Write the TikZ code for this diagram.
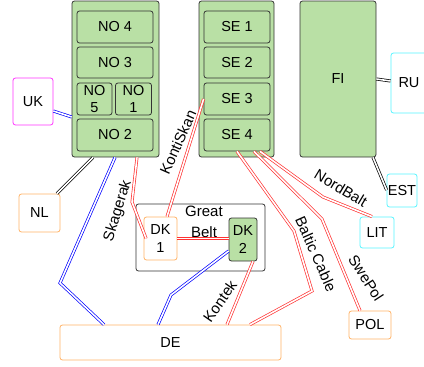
\documentclass[tikz,border=0pt]{standalone}
\usepackage{fontspec}
\setmainfont{Liberation Sans}
\usetikzlibrary{calc}
\definecolor{gfill}{HTML}{B9E0A5}
\definecolor{gline}{HTML}{333333}
\definecolor{orng}{HTML}{FFB366}
\definecolor{cyn}{HTML}{55F5FF}
\definecolor{mgn}{HTML}{FF33FF}
\definecolor{redl}{HTML}{FF3333}
\definecolor{bluel}{HTML}{0000FF}
\tikzset{
  box/.style={rectangle, rounded corners=2.5pt, line width=0.8pt, inner sep=0pt, align=center, font=\fontsize{14.5}{17.5}\selectfont},
  gbox/.style={box, draw=gline, fill=gfill},
  obox/.style={box, draw=orng, fill=white},
  cbox/.style={box, draw=cyn, fill=white},
  mbox/.style={box, draw=mgn, fill=white},
  wbox/.style={box, draw=gline, fill=white},
  link/.style={double=white, double distance=1.6pt, line width=0.7pt},
  redlink/.style={link, draw=redl},
  bluelink/.style={link, draw=bluel},
  blacklink/.style={link, draw=black},
  lbl/.style={inner sep=0pt, font=\fontsize{15}{18}\selectfont},
}
\begin{document}
\begin{tikzpicture}[x=1pt,y=-1pt]
\useasboundingbox (0,0) rectangle (424,367);
% containers
\node[gbox, minimum width=87, minimum height=156] (NO) at (115.5,79) {};
\node[gbox, minimum width=76, minimum height=32] (NO4) at (115,27) {NO 4};
\node[gbox, minimum width=76, minimum height=31] (NO3) at (115,62.5) {NO 3};
\node[gbox, minimum width=35, minimum height=32] (NO5) at (94.5,99) {NO\\5};
\node[gbox, minimum width=36, minimum height=32] (NO1) at (133.5,99) {NO\\1};
\node[gbox, minimum width=76, minimum height=32] (NO2) at (115,135) {NO 2};
\node[gbox, minimum width=75, minimum height=156] (SE) at (236.5,79) {};
\node[gbox, minimum width=66, minimum height=32] (SE1) at (237,27) {SE 1};
\node[gbox, minimum width=66, minimum height=31] (SE2) at (237,62.5) {SE 2};
\node[gbox, minimum width=66, minimum height=32] (SE3) at (237,99) {SE 3};
\node[gbox, minimum width=66, minimum height=32] (SE4) at (237,135) {SE 4};
\node[gbox, minimum width=76, minimum height=156] (FI) at (338,79) {FI};
\node[cbox, minimum width=36, minimum height=60] (RU) at (409,83) {RU};
\node[cbox, minimum width=30, minimum height=33] (EST) at (402,190.5) {EST};
\node[cbox, minimum width=34, minimum height=31] (LIT) at (377,232.5) {LIT};
\node[obox, minimum width=42, minimum height=28] (POL) at (370,325) {POL};
\node[obox, minimum width=221, minimum height=35] (DE) at (170.5,342.5) {DE};
\node[obox, minimum width=41, minimum height=38] (NL) at (39.5,213) {NL};
\node[mbox, minimum width=40, minimum height=47] (UK) at (33,101.5) {UK};
\node[wbox, minimum width=129, minimum height=67] (GB) at (200.5,237.5) {};
\node[lbl, align=center, font=\fontsize{15}{21}\selectfont] (GBl) at (204,222) {Great\\Belt};
\node[obox, minimum width=33, minimum height=43] (DK1) at (160.5,238.5) {DK\\1};
\node[gbox, minimum width=28, minimum height=43] (DK2) at (243,239.5) {DK\\2};
% connectors
\draw[bluelink] (UK.east |- 0,111) -- (NO.west |- 0,117);
\draw[blacklink] (93,0 |- NO.south) -- (57,0 |- NL.north);
\draw[bluelink] (115,0 |- NO.south) -- (60,283) -- (104,0 |- DE.north);
\draw[redlink] (137,0 |- NO.south) -- (132,202) -- ($(DK1.west)+(2.5,0)$);
\draw[redlink] (SE3.west) -- (167,0 |- DK1.north);
\draw[redlink] (DK1.east) -- (DK1.east -| DK2.west);
\draw[bluelink] (158,0 |- DE.north) -- (171,295) -- (DK2.west |- 0,251);
\draw[redlink] (253,0 |- DK2.south) -- (227,0 |- DE.north);
\draw[redlink] (237,0 |- SE4.south) -- (294,231) -- (312,291) -- (250,0 |- DE.north);
\draw[redlink] (254,0 |- SE4.south) -- (322,219) -- (360,0 |- POL.north);
\draw[redlink] (260,0 |- SE4.south) -- (323,197) -- (372,0 |- LIT.north);
\draw[blacklink] (FI.east |- 0,79) -- (RU.west |- 0,81);
\draw[blacklink] (373,0 |- FI.south) -- (EST.west |- 0,190);
% labels
\node[lbl, rotate=73] (lSk) at (118,211) {Skagerak};
\node[lbl, rotate=66] (lKS) at (178,142) {KontiSkan};
\node[lbl, rotate=55] (lKo) at (220,301) {Kontek};
\node[lbl, rotate=-66] (lBC) at (316,254) {Baltic Cable};
\node[lbl, rotate=-57] (lSP) at (366,278) {SwePol};
\node[lbl, rotate=-31] (lNB) at (341,188) {NordBalt};
\end{tikzpicture}
\end{document}
